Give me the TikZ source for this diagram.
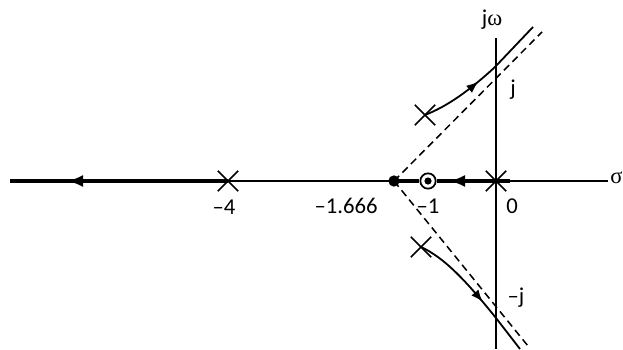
\documentclass[tikz,border=0pt]{standalone}
\usepackage{fontspec}
\setmainfont{Carlito}
\newfontfamily\grk{Liberation Serif}
\usetikzlibrary{arrows.meta,shapes.misc,decorations.markings}
\begin{document}
\begin{tikzpicture}[x=0.75pt,y=-0.75pt,
  thinline/.style={line width=1.35pt},
  thickline/.style={line width=2.3pt},
  axisline/.style={line width=1.3pt},
  dashline/.style={line width=1.15pt,dash pattern=on 5.5pt off 3.5pt},
  pole/.style={cross out,draw,line width=1.25pt,minimum size=14pt,inner sep=0pt},
  lbl/.style={font=\fontsize{17}{19}\selectfont,inner sep=0pt},
  tipL/.style={-{Latex[length=12pt,width=9pt]}},
  midarrow/.style={postaction={decorate},decoration={markings,mark=at position #1 with {\arrow{Latex[length=9pt,width=7pt]}}}}
]
\useasboundingbox (0,0) rectangle (623,349);
% coordinates
\coordinate (L) at (10,181);
\coordinate (R) at (608,181);
\coordinate (T) at (496,38);
\coordinate (B) at (496,349);
\coordinate (thickend) at (510,181);
\coordinate (ua) at (542,32);
\coordinate (la) at (528,346);
\coordinate (ue) at (533,27);
\coordinate (le) at (520,349);
% axes
\draw[axisline] (T) -- (B);
% poles, zero, centroid
\node[pole] (p0) at (496,181) {};
\node[pole] (p4) at (228,181) {};
\node[pole] (pu) at (425,115) {};
\node[pole] (pl) at (421,247) {};
\node[circle,draw,line width=1.3pt,fill=white,minimum size=11.5pt,inner sep=0pt] (z1) at (428,181) {};
\fill (z1.center) circle (2.7pt);
\node[circle,fill,minimum size=8.5pt,inner sep=0pt] (c) at (394,181) {};
% real axis
\draw[thickline] (L) -- (p4.center);
\draw[thinline] (p4.center) -- (c.center);
\draw[thickline] (c.center) -- (z1.west);
\draw[thickline] (z1.east) -- (thickend);
\draw[thinline] (thickend) -- (R);
\draw[thickline,tipL] (82,181) -- (67,181);
\draw[thickline,tipL] (465,181) -- (449,181);
% asymptotes
\draw[dashline] (c.center) -- (ua);
\draw[dashline] (c.center) -- (la);
% complex loci
\draw[thinline,midarrow=0.45] (pu.center) .. controls (448,106) and (470,90) .. (495,67) -- (ue);
\draw[thinline,midarrow=0.58] (pl.center) .. controls (445,258) and (467,282) .. (496,318) -- (le);
% labels
\node[lbl] (lab4) at (224,207) {\textendash 4};
\node[lbl] (labc) at (346,206) {\textendash 1.666};
\node[lbl] (lab1) at (428,206) {\textendash 1};
\node[lbl] (lab0) at (512,206) {0};
\node[lbl] (labj) at (513,90) {j};
\node[lbl] (labmj) at (516,298) {\textendash j};
\node[lbl,anchor=west] (sig) at (610,178) {\grk σ};
\node[lbl] (jw) at (492,20) {j\grk ω};
\end{tikzpicture}
\end{document}
